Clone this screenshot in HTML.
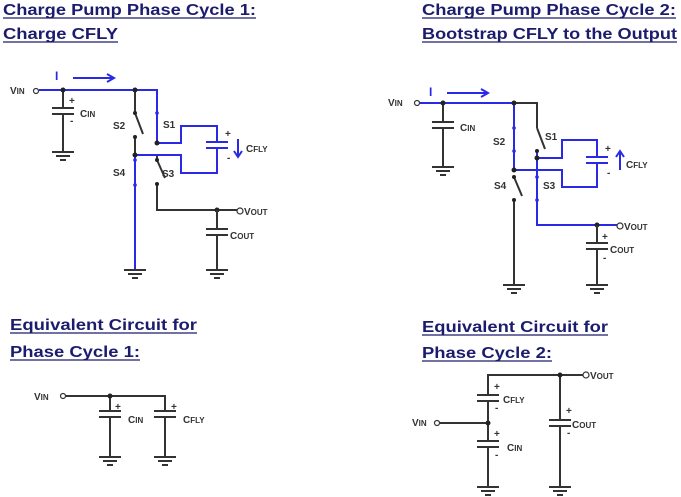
<!DOCTYPE html>
<html><head><meta charset="utf-8"><style>
html,body{margin:0;padding:0;background:#fff;}
svg{display:block;}
.t{font-family:"Liberation Sans",sans-serif;font-weight:bold;font-size:16px;fill:#1c1c6e;}
.l{font-family:"Liberation Sans",sans-serif;font-weight:bold;font-size:10px;fill:#333;}
.s{font-size:8px;}
.k{stroke:#333;stroke-width:2;fill:none;}
.b{stroke:#2a2ae6;stroke-width:2;fill:none;}
.u{stroke:#1c1c6e;stroke-width:1.3;}
</style></head><body>
<svg width="681" height="497" viewBox="0 0 681 497" xmlns="http://www.w3.org/2000/svg">
<defs>
<g id="gnd"><path d="M-11 0H11M-7 4H7M-3 8H3" stroke="#333" stroke-width="2" fill="none"/></g>
</defs>
<!-- Titles -->
<text class="t" x="3" y="15" textLength="253" lengthAdjust="spacingAndGlyphs">Charge Pump Phase Cycle 1:</text>
<line class="u" x1="3" y1="18" x2="256" y2="18"/>
<text class="t" x="3" y="39" textLength="115" lengthAdjust="spacingAndGlyphs">Charge CFLY</text>
<line class="u" x1="3" y1="42" x2="118" y2="42"/>
<text class="t" x="422" y="15" textLength="254" lengthAdjust="spacingAndGlyphs">Charge Pump Phase Cycle 2:</text>
<line class="u" x1="422" y1="18" x2="676" y2="18"/>
<text class="t" x="422" y="39" textLength="255" lengthAdjust="spacingAndGlyphs">Bootstrap CFLY to the Output</text>
<line class="u" x1="422" y1="42" x2="677" y2="42"/>
<text class="t" x="10" y="330" textLength="187" lengthAdjust="spacingAndGlyphs">Equivalent Circuit for</text>
<line class="u" x1="10" y1="333" x2="197" y2="333"/>
<text class="t" x="10" y="357" textLength="130" lengthAdjust="spacingAndGlyphs">Phase Cycle 1:</text>
<line class="u" x1="10" y1="360" x2="140" y2="360"/>
<text class="t" x="422" y="332" textLength="186" lengthAdjust="spacingAndGlyphs">Equivalent Circuit for</text>
<line class="u" x1="422" y1="335" x2="608" y2="335"/>
<text class="t" x="422" y="358" textLength="130" lengthAdjust="spacingAndGlyphs">Phase Cycle 2:</text>
<line class="u" x1="422" y1="361" x2="552" y2="361"/>

<!-- ===== Circuit 1 ===== -->
<text class="l" x="10" y="94">V<tspan class="s">IN</tspan></text>
<circle cx="36" cy="91" r="2.5" fill="#fff" stroke="#333" stroke-width="1.2"/>
<path class="b" d="M39 90H157V143"/>
<text x="55" y="80" fill="#2a2ae6" font-family="Liberation Sans" font-weight="bold" font-size="12">I</text>
<path class="b" d="M73 78H113M107 74L114 78L107 82"/>
<path class="k" d="M63 90V108M52 108H74M52 114H74M63 114V152"/>
<use href="#gnd" x="63" y="152"/>
<text class="l" x="69" y="104">+</text><text class="l" x="70" y="124">-</text>
<text class="l" x="80" y="117">C<tspan class="s">IN</tspan></text>
<!-- S2 -->
<path class="k" d="M135 90V113M135 113L143 134M135 137V155H157V160M157 160L165 178M157 184V210H237"/>
<text class="l" x="113" y="129" font-size="9">S2</text>
<text class="l" x="163" y="128" font-size="9">S1</text>
<text class="l" x="113" y="176" font-size="9">S4</text>
<text class="l" x="162" y="177" font-size="9">S3</text>
<path class="b" d="M157 143H181V126H217V142M206 142H228M206 148H228M217 148V173H181V155H135V270"/>
<use href="#gnd" x="135" y="270"/>
<text class="l" x="225" y="137">+</text><text class="l" x="227" y="161">-</text>
<path class="b" d="M238 139V156M234 151L238 157L242 151" stroke-width="1.6"/>
<text class="l" x="246" y="152">C<tspan class="s">FLY</tspan></text>
<g fill="#222"><circle cx="63" cy="90" r="2.5"/><circle cx="135" cy="90" r="2.5"/><circle cx="135" cy="113" r="2"/><circle cx="135" cy="137" r="2"/><circle cx="135" cy="155" r="2.5"/><circle cx="157" cy="143" r="2.5"/><circle cx="157" cy="160" r="2"/><circle cx="157" cy="184" r="2"/><circle cx="217" cy="210" r="2.5"/></g>
<g fill="#2a2ae6"><circle cx="157" cy="113" r="1.8"/><circle cx="135" cy="160" r="1.8"/><circle cx="135" cy="185" r="1.8"/></g>
<circle cx="240" cy="211" r="3" fill="#fff" stroke="#333" stroke-width="1.2"/>
<text class="l" x="244" y="215">V<tspan class="s">OUT</tspan></text>
<path class="k" d="M217 210V229M206 229H228M206 235H228M217 235V270"/>
<use href="#gnd" x="217" y="270"/>
<text class="l" x="230" y="239">C<tspan class="s">OUT</tspan></text>

<!-- ===== Circuit 2 ===== -->
<text class="l" x="388" y="106">V<tspan class="s">IN</tspan></text>
<circle cx="417" cy="103" r="2.5" fill="#fff" stroke="#333" stroke-width="1.2"/>
<path class="b" d="M420 103H514"/>
<text x="429" y="96" fill="#2a2ae6" font-family="Liberation Sans" font-weight="bold" font-size="12">I</text>
<path class="b" d="M447 93H487M481 89L488 93L481 97"/>
<path class="k" d="M443 103V122M432 122H454M432 128H454M443 128V167"/>
<use href="#gnd" x="443" y="167"/>
<text class="l" x="460" y="131">C<tspan class="s">IN</tspan></text>
<path class="k" d="M514 103H537V128M537 128L545 149M514 177L522 196M514 200V285"/>
<use href="#gnd" x="514" y="285"/>
<path class="b" d="M514 103V170M537 151V225H617M537 158H562V140H597V157M586 157H608M586 163H608M597 163V187H562V170H514"/>
<text class="l" x="493" y="145" font-size="9">S2</text>
<text class="l" x="545" y="140" font-size="9">S1</text>
<text class="l" x="494" y="189" font-size="9">S4</text>
<text class="l" x="543" y="189" font-size="9">S3</text>
<text class="l" x="605" y="152">+</text><text class="l" x="607" y="176">-</text>
<path class="b" d="M620 170V152M616 157L620 151L624 157" stroke-width="1.6"/>
<text class="l" x="626" y="168">C<tspan class="s">FLY</tspan></text>
<g fill="#222"><circle cx="443" cy="103" r="2.5"/><circle cx="514" cy="103" r="2.5"/><circle cx="537" cy="151" r="2"/><circle cx="537" cy="158" r="2.5"/><circle cx="514" cy="170" r="2.5"/><circle cx="514" cy="177" r="2"/><circle cx="514" cy="200" r="2"/><circle cx="597" cy="225" r="2.5"/></g>
<g fill="#2a2ae6"><circle cx="514" cy="128" r="1.8"/><circle cx="514" cy="151" r="1.8"/><circle cx="537" cy="177" r="1.8"/><circle cx="537" cy="200" r="1.8"/></g>
<circle cx="620" cy="226" r="3" fill="#fff" stroke="#333" stroke-width="1.2"/>
<text class="l" x="624" y="230">V<tspan class="s">OUT</tspan></text>
<path class="k" d="M597 225V243M586 243H608M586 249H608M597 249V285"/>
<use href="#gnd" x="597" y="285"/>
<text class="l" x="602" y="240">+</text><text class="l" x="603" y="261">-</text>
<text class="l" x="610" y="253">C<tspan class="s">OUT</tspan></text>

<!-- ===== Equivalent 1 ===== -->
<text class="l" x="34" y="400">V<tspan class="s">IN</tspan></text>
<circle cx="63" cy="396" r="2.5" fill="#fff" stroke="#333" stroke-width="1.2"/>
<path class="k" d="M66 396H165V411M154 411H176M154 417H176M165 417V457M110 396V411M99 411H121M99 417H121M110 417V457"/>
<use href="#gnd" x="110" y="457"/><use href="#gnd" x="165" y="457"/>
<circle cx="110" cy="396" r="2.5" fill="#222"/>
<text class="l" x="115" y="410">+</text><text class="l" x="171" y="410">+</text>
<text class="l" x="128" y="423">C<tspan class="s">IN</tspan></text>
<text class="l" x="183" y="423">C<tspan class="s">FLY</tspan></text>

<!-- ===== Equivalent 2 ===== -->
<path class="k" d="M583 375H488V395M477 395H499M477 401H499M488 401V441M477 441H499M477 447H499M488 447V487M440 423H488M560 375V420M549 420H571M549 426H571M560 426V487"/>
<use href="#gnd" x="488" y="487"/><use href="#gnd" x="560" y="487"/>
<g fill="#222"><circle cx="488" cy="423" r="2.5"/><circle cx="560" cy="375" r="2.5"/></g>
<circle cx="586" cy="375" r="3" fill="#fff" stroke="#333" stroke-width="1.2"/>
<text class="l" x="590" y="379">V<tspan class="s">OUT</tspan></text>
<text class="l" x="412" y="426">V<tspan class="s">IN</tspan></text>
<circle cx="437" cy="423" r="2.5" fill="#fff" stroke="#333" stroke-width="1.2"/>
<text class="l" x="494" y="390">+</text><text class="l" x="495" y="411">-</text>
<text class="l" x="494" y="437">+</text><text class="l" x="495" y="458">-</text>
<text class="l" x="566" y="414">+</text><text class="l" x="567" y="436">-</text>
<text class="l" x="503" y="403">C<tspan class="s">FLY</tspan></text>
<text class="l" x="507" y="451">C<tspan class="s">IN</tspan></text>
<text class="l" x="572" y="428">C<tspan class="s">OUT</tspan></text>
</svg>
</body></html>
